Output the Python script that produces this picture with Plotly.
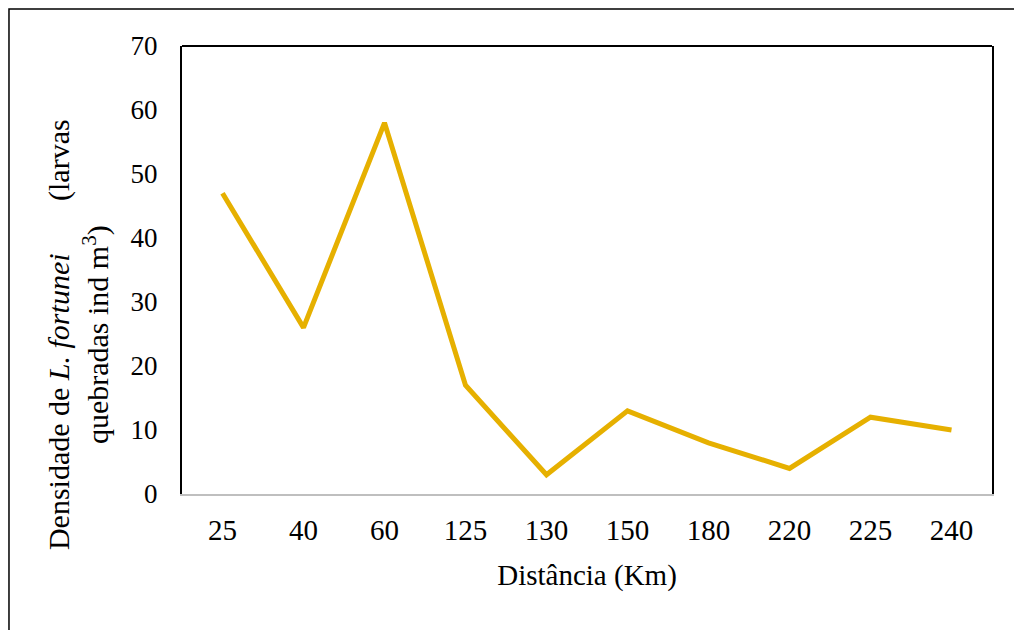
import plotly.graph_objects as go

# Distance along the river (km) and larval density
distancias = ["25", "40", "60", "125", "130", "150", "180", "220", "225", "240"]
densidade = [47, 26, 58, 17, 3, 13, 8, 4, 12, 10]
y_ticks = [0, 10, 20, 30, 40, 50, 60, 70]

FONT = "Liberation Serif"
LINE_COLOR = "#E6B000"

fig = go.Figure()
fig.add_trace(go.Scatter(
    x=distancias,
    y=densidade,
    mode="lines",
    line=dict(color=LINE_COLOR, width=5),
    hoverinfo="x+y",
    showlegend=False,
))

gap = "\u00a0" * 7
fig.add_annotation(
    text="Densidade de <i>L. fortunei</i>" + gap + "(larvas<br>quebradas ind m<sup>3</sup>)",
    xref="paper", yref="paper",
    x=-0.127, y=0.355,
    xanchor="center", yanchor="middle",
    textangle=-90,
    showarrow=False,
    align="center",
    font=dict(family=FONT, size=30, color="black"),
)

# top edge of the plot frame
fig.add_shape(type="line", xref="paper", yref="paper",
              x0=0, x1=1, y0=1, y1=1,
              line=dict(color="black", width=2))
# outer chart frame
fig.add_shape(type="rect", xref="paper", yref="paper",
              x0=-0.2136, x1=1.04, y0=-0.33, y1=1.0826,
              line=dict(color="black", width=1.5))

fig.update_layout(
    width=1014, height=630,
    margin=dict(l=182, r=22, t=46, b=136),
    paper_bgcolor="white",
    plot_bgcolor="white",
    font=dict(family=FONT, color="black"),
    xaxis=dict(
        type="category",
        range=[-0.5, len(distancias) - 0.5],
        showgrid=False, zeroline=False,
        showline=True, linecolor="#BFBFBF", linewidth=2,
        ticks="", ticklabelstandoff=9,
        tickfont=dict(family=FONT, size=29, color="black"),
        title=dict(text="Distância (Km)", font=dict(family=FONT, size=29, color="black"), standoff=20),
    ),
    yaxis=dict(
        range=[0, 70],
        tickvals=y_ticks,
        showgrid=False, zeroline=False,
        showline=True, mirror=True, linecolor="black", linewidth=2,
        ticks="", ticklabelstandoff=17,
        tickfont=dict(family=FONT, size=27, color="black"),
    ),
)

fig.write_html("out.html")
